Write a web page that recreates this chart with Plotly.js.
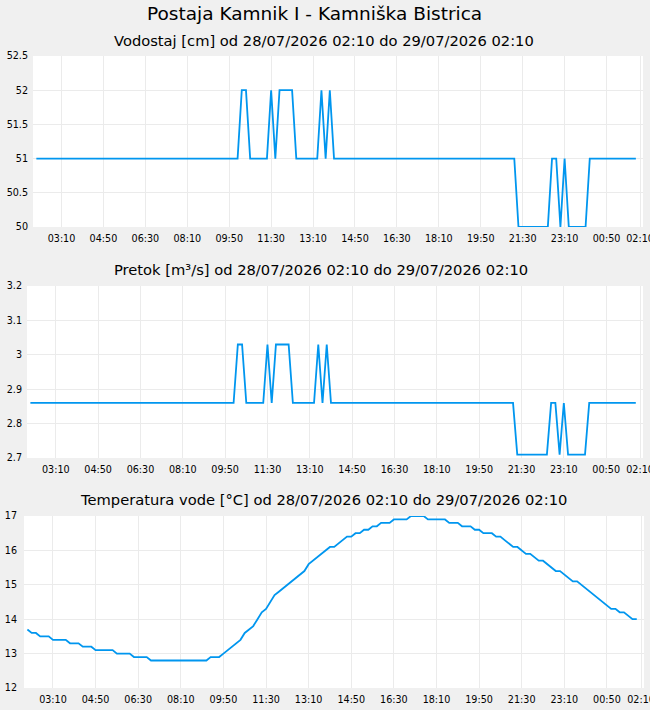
<!DOCTYPE html>
<html>
<head>
<meta charset="utf-8">
<script src="https://cdn.plot.ly/plotly-3.0.1.min.js"></script>
<style>
html,body{margin:0;padding:0;background:#f0f0f0;}
#chart{width:650px;height:710px;}
</style>
</head>
<body>
<div id="chart"></div>
<script>
// ---- data ----
var mainTitle = 'Postaja Kamnik I - Kamniška Bistrica';
var panelTitles = [
  'Vodostaj [cm] od 28/07/2026 02:10 do 29/07/2026 02:10',
  'Pretok [m³/s] od 28/07/2026 02:10 do 29/07/2026 02:10',
  'Temperatura vode [°C] od 28/07/2026 02:10 do 29/07/2026 02:10'
];

// x tick positions and labels (same on all three panels)
var tickTimes = [
  '2026-07-28 03:10','2026-07-28 04:50','2026-07-28 06:30','2026-07-28 08:10','2026-07-28 09:50',
  '2026-07-28 11:30','2026-07-28 13:10','2026-07-28 14:50','2026-07-28 16:30','2026-07-28 18:10',
  '2026-07-28 19:50','2026-07-28 21:30','2026-07-28 23:10','2026-07-29 00:50','2026-07-29 02:10'
];
var tickLabels = ['03:10','04:50','06:30','08:10','09:50','11:30','13:10','14:50','16:30','18:10',
  '19:50','21:30','23:10','00:50','02:10'];

// water level / discharge: times at which the value changes (linear between)
var levelTimes = [
  '2026-07-28 02:10','2026-07-28 10:10','2026-07-28 10:20','2026-07-28 10:30','2026-07-28 10:40',
  '2026-07-28 11:20','2026-07-28 11:30','2026-07-28 11:40','2026-07-28 11:50','2026-07-28 12:20',
  '2026-07-28 12:30','2026-07-28 13:20','2026-07-28 13:30','2026-07-28 13:40','2026-07-28 13:50',
  '2026-07-28 14:00','2026-07-28 21:10','2026-07-28 21:20','2026-07-28 22:30','2026-07-28 22:40',
  '2026-07-28 22:50','2026-07-28 23:00','2026-07-28 23:10','2026-07-28 23:20','2026-07-29 00:00',
  '2026-07-29 00:10','2026-07-29 02:00'
];
var levelValues = [51,51,52,52,51, 51,52,51,52,52, 51,51,52,51,52, 51,51,50,50,51, 51,50,51,50,50, 51,51];
var flowValues  = [2.86,2.86,3.03,3.03,2.86, 2.86,3.03,2.86,3.03,3.03, 2.86,2.86,3.03,2.86,3.03,
                   2.86,2.86,2.71,2.71,2.86, 2.86,2.71,2.86,2.71,2.71, 2.86,2.86];

// water temperature, every 10 minutes from 28/07 02:10 to 29/07 02:00
var tempStart = '2026-07-28 02:10';
var tempStepMinutes = 10;
var tempValues = [
  13.7,13.6,13.6,13.5,13.5,13.5,13.4,13.4,13.4,13.4,13.3,13.3,13.3,13.2,13.2,13.2,
  13.1,13.1,13.1,13.1,13.1,13.0,13.0,13.0,13.0,12.9,12.9,12.9,12.9,
  12.8,12.8,12.8,12.8,12.8,12.8,12.8,12.8,12.8,12.8,12.8,12.8,12.8,12.8,
  12.9,12.9,12.9,13.0,
  13.1,13.2,13.3,13.4,13.6,13.7,
  13.8,14.0,14.2,14.3,14.5,14.7,
  14.8,14.9,15.0,15.1,15.2,15.3,
  15.4,15.6,15.7,15.8,15.9,16.0,
  16.1,16.1,16.2,16.3,16.4,16.4,
  16.5,16.5,16.6,16.6,16.7,16.7,
  16.8,16.8,16.8,16.9,16.9,16.9,
  16.9,17.0,17.0,17.0,17.0,16.9,
  16.9,16.9,16.9,16.9,16.8,16.8,
  16.8,16.7,16.7,16.7,16.6,16.6,
  16.5,16.5,16.5,16.4,16.4,16.3,
  16.2,16.1,16.1,16.0,15.9,15.9,
  15.8,15.7,15.7,15.6,15.5,15.4,
  15.4,15.3,15.2,15.1,15.1,15.0,
  14.9,14.8,14.7,14.6,14.5,14.4,
  14.3,14.3,14.2,14.2,14.1,14.0,
  14.0
];

// ---- build temperature timestamps ----
function pad(n){return (n<10?'0':'')+n;}
function addMinutes(base, mins){
  var d = new Date(base.replace(' ','T')+':00Z');
  d = new Date(d.getTime()+mins*60000);
  return d.getUTCFullYear()+'-'+pad(d.getUTCMonth()+1)+'-'+pad(d.getUTCDate())+' '+pad(d.getUTCHours())+':'+pad(d.getUTCMinutes());
}
var tempTimes = tempValues.map(function(v,i){return addMinutes(tempStart, i*tempStepMinutes);});

var lineColor = '#0096ef';
var FONT = 'DejaVu Sans';
var W = 650, H = 710;

var traces = [
  {x: levelTimes, y: levelValues, type:'scatter', mode:'lines', line:{color:lineColor, width:1.8}, xaxis:'x', yaxis:'y', hoverinfo:'skip'},
  {x: levelTimes, y: flowValues, type:'scatter', mode:'lines', line:{color:lineColor, width:1.8}, xaxis:'x2', yaxis:'y2', hoverinfo:'skip'},
  {x: tempTimes, y: tempValues, type:'scatter', mode:'lines', line:{color:lineColor, width:1.8}, xaxis:'x3', yaxis:'y3', hoverinfo:'skip'}
];

var xRange = ['2026-07-28 02:02', '2026-07-29 02:17'];
function xa(l, r, anchor){
  return {domain:[l/W, r/W], anchor:anchor, type:'date', range:xRange, autorange:false,
    tickmode:'array', tickvals:tickTimes, ticktext:tickLabels,
    showgrid:true, gridcolor:'#ebebeb', gridwidth:1, zeroline:false, showline:false, ticks:'',
    ticklabeloverflow:'allow', ticklabelstandoff:4,
    tickfont:{family:FONT, size:9.6, color:'#000'}, fixedrange:true};
}
function ya(top, bottom, range, dtick, anchor, standoff){
  return {domain:[1-bottom/H, 1-top/H], anchor:anchor, range:range, autorange:false, dtick:dtick,
    showgrid:true, gridcolor:'#ebebeb', gridwidth:1, zeroline:false, showline:false, ticks:'',
    ticklabeloverflow:'allow', ticklabelstandoff:standoff,
    tickfont:{family:FONT, size:9.6, color:'#000'}, fixedrange:true};
}

var layout = {
  width:W, height:H, margin:{l:0,r:0,t:0,b:0},
  paper_bgcolor:'#f0f0f0', plot_bgcolor:'#ffffff', showlegend:false,
  font:{family:FONT, color:'#000'},
  xaxis: xa(33, 643, 'y'),
  yaxis: ya(56, 227, [50, 52.5], 0.5, 'x', 4),
  xaxis2: xa(27, 643, 'y2'),
  yaxis2: ya(286, 458, [2.7, 3.2], 0.1, 'x2', 4),
  xaxis3: xa(24, 644, 'y3'),
  yaxis3: ya(516, 688, [12, 17], 1, 'x3', 6),
  annotations: [
    {text:mainTitle, xref:'paper', yref:'paper', x:314/W, y:1-14/H, xanchor:'center', yanchor:'middle', showarrow:false, font:{family:FONT, size:18.5, color:'#000'}},
    {text:panelTitles[0], xref:'paper', yref:'paper', x:323.5/W, y:1-40/H, xanchor:'center', yanchor:'middle', showarrow:false, font:{family:FONT, size:14.7, color:'#000'}},
    {text:panelTitles[1], xref:'paper', yref:'paper', x:320.5/W, y:1-270/H, xanchor:'center', yanchor:'middle', showarrow:false, font:{family:FONT, size:14.7, color:'#000'}},
    {text:panelTitles[2], xref:'paper', yref:'paper', x:323.5/W, y:1-500/H, xanchor:'center', yanchor:'middle', showarrow:false, font:{family:FONT, size:14.7, color:'#000'}}
  ]
};

Plotly.newPlot('chart', traces, layout, {staticPlot:true, displayModeBar:false});
</script>
</body>
</html>
